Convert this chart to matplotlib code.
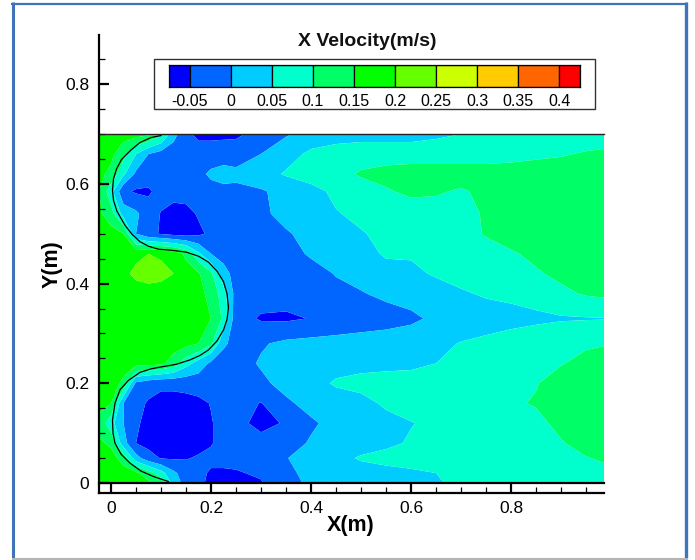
import numpy as np
import matplotlib
matplotlib.use("Agg")
import matplotlib.pyplot as plt
from matplotlib.lines import Line2D
from matplotlib.patches import Rectangle

x_grid = [-0.024, 0, 0.025, 0.05, 0.075, 0.1, 0.125, 0.15, 0.175, 0.2, 0.225, 0.25, 0.3, 0.35, 0.4,
          0.45, 0.5, 0.55, 0.6, 0.65, 0.7, 0.75, 0.8, 0.85, 0.9, 0.95, 0.986]
y_grid = [0, 0.02, 0.05, 0.08, 0.12, 0.16, 0.20, 0.24, 0.28, 0.33, 0.38, 0.42, 0.46, 0.50, 0.54, 0.585, 0.62, 0.66, 0.70]

# x velocity in cm/s, one row per y_grid value
velocity_cm_s = [
 [17,17,17,17,16,13,3,-2,-4,-6,-6.5,-6,-5.3,-1.5,.8,1.5,2,2.5,3,4.5,6,7,7.5,8,8,8,8],
 [17,17,17,16,12,7,1,-2.5,-4,-5.5,-5.5,-5.3,-4.5,-.8,1,2,3,3.5,4.2,5,6.5,7.5,8,8.5,8.5,9,9],
 [17,17,13,2,-3,-5.3,-5.5,-5.3,-4.5,-4,-4,-4,-3,-.2,2,3.5,5.5,6.5,7,7.5,8,8.5,8.5,9,9.2,9.8,10.5],
 [16,14,2,-5,-6.5,-7,-7,-7,-6.5,-5.3,-3.5,-3,-3.2,-2,.5,2,3,4,5.5,6.5,7.5,8,8.5,9,9.7,11.5,12.5],
 [13,7,0,-4.5,-6,-7,-7,-7,-6.5,-5.3,-3.5,-3.5,-6.5,-4.5,-.7,1.5,3,4,4.8,6,7,8,8.5,9,11,12.5,13],
 [17,15,0,-3.5,-5.5,-6.5,-6.5,-6.5,-6,-4.8,-3.5,-3,-5.2,-.8,1.5,3,4,5.5,7,8,8.5,9,9.5,10.3,12,13,13],
 [17,17,14,-1,-3,-4,-4,-3.5,-3,-3,-3,-3,-1,1.5,3.5,5.5,6,6.5,7,7.5,8,8.5,9,9.8,11.5,12.5,13],
 [17,17,17,17,17,16,13,7,3,-1,-2.5,-2,.5,2,3,3.5,4,4,4,5,6.5,7.5,8,9,9.8,11,12],
 [17,17,17,17.5,18,17.5,17,16.5,15,11,1,-2,-.5,1,1.5,1.5,2,2.5,3,4,5.2,6,7,8,9,9.5,9.7],
 [17,17,17,17.5,18,18,17,17,16,15,9,-3,-5.5,-5.8,-4.8,-3,-2.5,-2,-1,1,2.5,3,3.5,4,4.5,4.7,4.8],
 [17,17,17,18,18.5,18.5,17,17,16,14,7,-2,-3,-3,-3,-1,-.3,1,2,3,4.5,5.5,6,7,9,10.5,11],
 [17,17,19,21,21.5,21,20,17,15.5,11,2,-2,-3,-3,-1.5,.2,1.5,3.5,4,5.5,6.5,7.5,8,9.5,11,12,13],
 [17,17,17,19,20,19.5,18,14,6,0,-2,-2.5,-3,-1.5,.5,2,3.5,5.5,5.5,6,7,7.5,9.5,11,12,13,13],
 [17,17,15,0,-4,-5.3,-6.5,-7,-6,-4,-3,-2.5,-2,-.5,1.5,3,4.7,6,6.5,7,7.5,10.5,12,13,13,13,13],
 [16,12,3,1,-3,-5.2,-7,-6.5,-4.5,-3,-3,-2,-1,1.5,3,4.7,6,7,7.5,8,8.5,10.5,12,13,13,13,13],
 [15,7,-4,-5.6,-5.6,-3.5,-3,-3,-3,-2,-1.5,-1,-.5,1.5,3.5,6,8,9.5,11,10.5,9.5,11,12,13,13,13,13],
 [16,14,6,-1,-3,-3,-3,-3,-1.5,1,2,1,3,5.5,7,8.5,10.5,11.5,12,12,12,12,12,12.5,13,13,13],
 [17,16,12,5,0,-2,-3,-3,-3,-3,-2.5,-2,0,3,6,7,8,8,8,8,8,8,8.5,9,9.5,10.5,11],
 [17,17,17,17,16,11,2,-4,-6,-6,-6,-6,-3,-.5,2,3,3,3,3,4,5,6,7,7,7,7,7],
]

level_values = [-0.075, -0.05, 0, 0.05, 0.1, 0.15, 0.2, 0.25, 0.3, 0.35, 0.4, 0.425]
legend_labels = ["-0.05", "0", "0.05", "0.1", "0.15", "0.2", "0.25", "0.3", "0.35", "0.4"]
band_colors = ["#0000ff", "#0066ff", "#00ccff", "#00ffcc", "#00ff66", "#00ff00",
               "#66ff00", "#ccff00", "#ffcc00", "#ff6600", "#ff0000"]

boundary_x = [.10, .08, .058, .04, .021, .011, .005, .003, .005, .012, .028, .042, .058, .075, .095, .12, .151,
              .175, .195, .212, .225, .232, .235, .232, .225, .212, .195, .178, .158, .13, .101, .08, .058, .035,
              .018, .008, .003, .004, .008, .02, .038, .06, .085, .115]
boundary_y = [.697, .693, .683, .668, .649, .63, .61, .588, .567, .545, .517, .499, .484, .475, .469, .467, .463,
              .455, .443, .425, .404, .38, .352, .328, .307, .285, .267, .256, .247, .238, .233, .229, .222, .206,
              .187, .16, .126, .10, .08, .058, .04, .024, .013, .003]

x_major = [0, 0.2, 0.4, 0.6, 0.8]
y_major = [0, 0.2, 0.4, 0.6, 0.8]
x_minor = np.arange(0.05, 0.97, 0.05)
y_minor = np.arange(0.05, 0.87, 0.05)

W, H = 695, 560
plt.rcParams["font.family"] = ["Liberation Sans", "DejaVu Sans"]
fig = plt.figure(figsize=(W / 100, H / 100), dpi=100, facecolor="white")


def fx(px):
    return px / W


def fy(py):
    return 1 - py / H


# window frame
frame_blue = "#3f74b8"
for xs, ys, col, lw in [
    ((12.5, 12.5), (2, 558), frame_blue, 2.2),
    ((11, 688), (3.5, 3.5), frame_blue, 1.6),
    ((686, 686), (2, 558), frame_blue, 2.4),
    ((12, 688), (559, 559), "#b4b4b4", 1.5),
]:
    fig.add_artist(Line2D([fx(v) for v in xs], [fy(v) for v in ys], color=col, lw=lw,
                          transform=fig.transFigure, solid_capstyle="butt"))

ax = fig.add_axes([fx(99), fy(493), fx(505), 458 / H])
ax.set_xlim(-0.024, 0.986)
ax.set_ylim(-0.02, 0.8987)
ax.contourf(x_grid, y_grid, np.array(velocity_cm_s) / 100, levels=level_values, colors=band_colors,
            extend="neither", antialiased=True)
ax.plot(boundary_x, boundary_y, color="black", lw=0.9)
ax.plot([-0.024, 0.986], [0.70, 0.70], color="#222222", lw=1.0, clip_on=False)
ax.plot([-0.024, 0.986], [0, 0], color="black", lw=1.6, clip_on=False)

for s in ("top", "right"):
    ax.spines[s].set_visible(False)
for s in ("left", "bottom"):
    ax.spines[s].set_linewidth(1.6)
ax.set_xticks(x_major)
ax.set_yticks(y_major)
ax.set_xticks(x_minor, minor=True)
ax.set_yticks(y_minor, minor=True)
ax.set_xticklabels(["0", "0.2", "0.4", "0.6", "0.8"], fontsize=12.5)
ax.set_yticklabels(["0", "0.2", "0.4", "0.6", "0.8"], fontsize=12.5)
ax.tick_params(which="major", direction="in", length=7.5, width=1.6)
ax.tick_params(axis="x", which="major", pad=5.5)
ax.tick_params(axis="y", which="major", pad=7)
ax.tick_params(which="minor", direction="in", length=4.5, width=0.9)
ax.set_zorder(2)

fig.text(fx(351), fy(525), "X(m)", ha="center", va="center", fontsize=15.5, fontweight="bold")
fig.text(fx(52), fy(264), "Y(m)", ha="center", va="center", rotation=90, fontsize=15.5, fontweight="bold")
fig.text(fx(367), fy(42), "X Velocity(m/s)", ha="center", va="center", fontsize=14, fontweight="bold", color="#111111")

# legend box
fig.add_artist(Rectangle((fx(153.5), fy(108.5)), fx(441.5), 49.5 / H, fc="white", ec="#333333", lw=1.0,
                         transform=fig.transFigure, zorder=5))
leg = fig.add_axes([fx(169), fy(87), fx(411), 22 / H], zorder=6)
leg.set_xlim(level_values[0], level_values[-1])
leg.set_ylim(0, 1)
for lo, hi, col in zip(level_values[:-1], level_values[1:], band_colors):
    leg.barh(0.5, hi - lo, left=lo, height=1, color=col, edgecolor="black", linewidth=0.9)
leg.set_yticks([])
leg.set_xticks(level_values[1:-1])
leg.set_xticklabels(legend_labels, fontsize=11.5)
leg.tick_params(axis="x", length=0, pad=5)
for s in leg.spines.values():
    s.set_linewidth(0.9)

fig.savefig("out.png", dpi=100, facecolor="white")
